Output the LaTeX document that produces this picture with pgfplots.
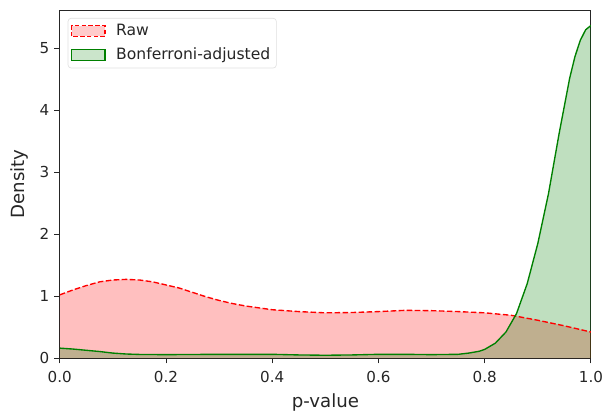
\documentclass[border=0pt]{standalone}
\usepackage{pgfplots}
\pgfplotsset{compat=1.18}
\usetikzlibrary{calc}
\usepackage{fontspec}
\setmainfont{DejaVu Sans}
\definecolor{mgreen}{rgb}{0,0.5,0}
\definecolor{tx}{gray}{0.15}
\pgfplotstableread{
x y
0 1.02
0.025 1.10
0.05 1.17
0.075 1.23
0.1 1.26
0.125 1.27
0.15 1.26
0.175 1.23
0.2 1.18
0.225 1.13
0.25 1.06
0.275 0.99
0.3 0.93
0.325 0.88
0.35 0.84
0.375 0.81
0.4 0.78
0.45 0.75
0.5 0.73
0.55 0.735
0.6 0.75
0.65 0.77
0.7 0.765
0.75 0.75
0.8 0.73
0.85 0.69
0.9 0.61
0.95 0.52
1.0 0.42
}\raw
\pgfplotstableread{
x y
0 0.16
0.025 0.145
0.05 0.125
0.075 0.105
0.1 0.08
0.125 0.065
0.15 0.058
0.2 0.055
0.3 0.06
0.4 0.06
0.45 0.05
0.5 0.045
0.55 0.05
0.6 0.06
0.65 0.06
0.7 0.055
0.75 0.06
0.77 0.08
0.79 0.11
0.8 0.14
0.82 0.24
0.84 0.42
0.86 0.72
0.88 1.2
0.9 1.85
0.92 2.65
0.94 3.62
0.96 4.52
0.97 4.87
0.98 5.13
0.99 5.3
1.0 5.37
}\bonf
\begin{document}
\begin{tikzpicture}
\begin{axis}[
  scale only axis, width=351pt, height=230pt,
  xmin=0, xmax=1, ymin=0, ymax=5.62,
  xtick={0,0.2,0.4,0.6,0.8,1.0},
  xticklabels={0.0,0.2,0.4,0.6,0.8,1.0},
  ytick={0,1,2,3,4,5},
  tick align=outside, tick pos=left,
  major tick length=3.5pt,
  every tick/.style={tx, line width=0.6pt},
  axis line style={tx, line width=0.6pt},
  tick label style={font=\fontsize{10}{12}\selectfont, text=tx},
  xticklabel style={yshift=-1.5pt},
  /pgf/number format/assume math mode=true,
  xlabel={p-value}, ylabel={Density},
  label style={font=\fontsize{12}{14}\selectfont, text=tx},
  xlabel style={at={($(axis description cs:0.5,0)+(0,-33pt)$)}, anchor=base},
  ylabel style={at={($(axis description cs:0,0.5)+(-23.5pt,0)$)}, anchor=base, rotate=0},
  legend style={at={(0.015,0.977)}, anchor=north west, draw=gray!25, rounded corners=2pt,
     fill=white, fill opacity=0.8, text opacity=1, font=\fontsize{10.3}{12}\selectfont,
     inner xsep=2pt, inner ysep=2pt, row sep=2.5pt, text=tx},
  legend cell align=left,
  legend image code/.code={\draw[#1, sharp corners] (0pt,-3.5pt) rectangle (22pt,3.5pt); \path (27pt,0pt);},
]
\addplot[fill=red, fill opacity=0.25, draw=none, forget plot] table {\raw} \closedcycle;
\addplot[fill=mgreen, fill opacity=0.25, draw=none, forget plot] table {\bonf} \closedcycle;
\addplot[red, dash pattern=on 3.7pt off 1.6pt, line width=0.9pt, forget plot] table {\raw};
\addplot[mgreen, line width=0.9pt, forget plot] table {\bonf};
\addlegendimage{draw=red, dash pattern=on 3pt off 1.5pt, fill=red!25, line width=0.8pt}
\addlegendentry{Raw}
\addlegendimage{draw=mgreen, fill=mgreen!25, line width=0.8pt}
\addlegendentry{Bonferroni-adjusted}
\end{axis}
\path ($(current axis.south west)+(-39.5pt,-36pt)$) rectangle ($(current axis.north east)+(9.2pt,6.6pt)$);
\end{tikzpicture}
\end{document}
